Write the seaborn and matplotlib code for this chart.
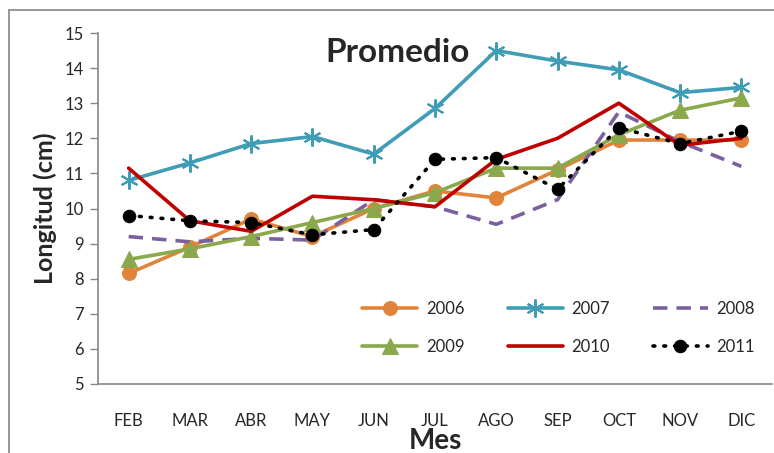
import matplotlib
matplotlib.use("Agg")
import matplotlib.pyplot as plt
import seaborn as sns
import pandas as pd
from matplotlib.lines import Line2D

sns.set_style("white")
plt.rcParams['font.family'] = ['Lato', 'DejaVu Sans']

meses = ['FEB', 'MAR', 'ABR', 'MAY', 'JUN', 'JUL', 'AGO', 'SEP', 'OCT', 'NOV', 'DIC']
v2006 = [8.15, 8.9, 9.7, 9.2, 10.0, 10.5, 10.3, 11.1, 11.95, 11.95, 11.95]
v2007 = [10.8, 11.3, 11.85, 12.05, 11.55, 12.85, 14.5, 14.2, 13.95, 13.3, 13.45]
v2008 = [9.2, 9.05, 9.15, 9.1, 10.25, 10.05, 9.55, 10.25, 12.75, 11.9, 11.2]
v2009 = [8.55, 8.85, 9.2, 9.6, 10.0, 10.45, 11.15, 11.15, 12.1, 12.8, 13.15]
v2010 = [11.15, 9.65, 9.35, 10.35, 10.25, 10.05, 11.4, 12.0, 13.0, 11.8, 12.0]
v2011 = [9.8, 9.65, 9.6, 9.25, 9.4, 11.4, 11.45, 10.55, 12.3, 11.85, 12.2]

series = {'2006': v2006, '2007': v2007, '2008': v2008,
          '2009': v2009, '2010': v2010, '2011': v2011}

estilos = {
    '2006': dict(color='#E0843C', marker='o', markersize=10, markeredgecolor='#E0843C',
                 linestyle='-'),
    '2007': dict(color='#419CB6', marker=(6, 2, 0), markersize=13, markeredgewidth=1.5,
                 markeredgecolor='#419CB6', linestyle='-'),
    '2008': dict(color='#7B60A0', marker='', linestyle=(0, (4, 2.5))),
    '2009': dict(color='#8AA84C', marker='^', markersize=11, markeredgecolor='#8AA84C',
                 linestyle='-'),
    '2010': dict(color='#C00000', marker='', linestyle='-'),
    '2011': dict(color='black', marker='o', markersize=9, markeredgecolor='black',
                 linestyle=(0, (0.5, 2.5)), dash_capstyle='round'),
}

fig = plt.figure(figsize=(7.74, 4.53), dpi=100)
ax = fig.add_axes([98 / 774, 1 - 384 / 453, 674 / 774, 351 / 453])

handles = {}
for nombre, valores in series.items():
    df = pd.DataFrame({'Mes': meses, 'Longitud': valores})
    sns.lineplot(data=df, x='Mes', y='Longitud', ax=ax, sort=False,
                 linewidth=2.6, label=nombre, **estilos[nombre])
    handles[nombre] = ax.get_lines()[-1]

ax.set_xlim(-0.5, 10.5)
ax.set_ylim(5, 15)
ax.set_yticks(range(5, 16))
ax.set_xticks(range(11))
ax.set_xticklabels(meses)
ax.set_xticks([i - 0.5 for i in range(12)], minor=True)
ax.tick_params(axis='x', which='major', length=0, pad=21, labelsize=12)
ax.tick_params(axis='x', which='minor', length=6, width=1, color='#868686', direction='out')
ax.tick_params(axis='y', length=6, width=1, color='#868686', direction='out', labelsize=12, pad=4)
ax.tick_params(bottom=True, left=True)

for s in ['top', 'right']:
    ax.spines[s].set_visible(False)
for s in ['left', 'bottom']:
    ax.spines[s].set_color('#868686')
    ax.spines[s].set_linewidth(1.2)

ax.set_xlabel('Mes', fontsize=20, fontweight='bold', labelpad=-1)
ax.set_ylabel('Longitud (cm)', fontsize=18, fontweight='bold', labelpad=6)
ax.text(0.445, 0.985, 'Promedio', transform=ax.transAxes, ha='center', va='top',
        fontsize=24, fontweight='bold')

orden = ['2006', '2009', '2007', '2010', '2008', '2011']
ax.legend([handles[k] for k in orden], orden, ncol=3, frameon=False,
          loc='lower left', bbox_to_anchor=(0.37, 0.04), fontsize=12,
          handlelength=3.3, columnspacing=2.6, labelspacing=1.3, handletextpad=0.5)

# borde del area del grafico (recortado a la derecha y abajo)
fig.add_artist(Line2D([9 / 774, 1], [1 - 10 / 453] * 2, transform=fig.transFigure,
                      color='#868686', linewidth=1.2))
fig.add_artist(Line2D([9 / 774] * 2, [0, 1 - 10 / 453], transform=fig.transFigure,
                      color='#868686', linewidth=1.2))

fig.savefig('out.png', dpi=100)
